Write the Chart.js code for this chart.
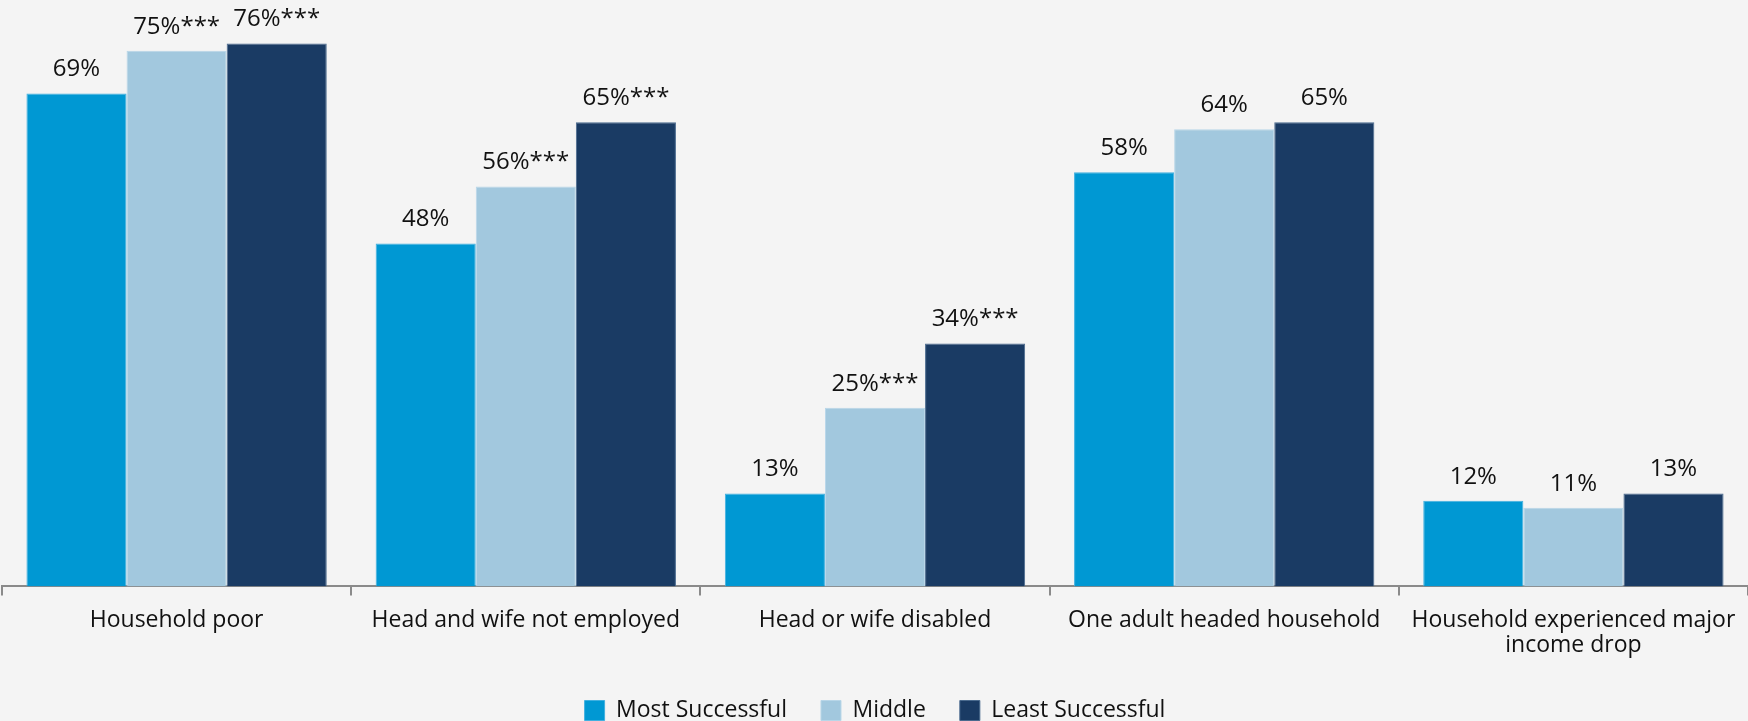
<!DOCTYPE html>
<html>
<head>
<meta charset="utf-8">
<script src="https://cdn.jsdelivr.net/npm/chart.js@4/dist/chart.umd.min.js"></script>
<style>
  html, body { margin: 0; padding: 0; background: #f4f4f4; }
  #wrap { width: 1748px; height: 721px; }
</style>
</head>
<body>
<div id="wrap"><canvas id="successChart"></canvas></div>
<script>
// Household circumstances by success group
const categories = [
    'Household poor',
    'Head and wife not employed',
    'Head or wife disabled',
    'One adult headed household',
    ['Household experienced major', 'income drop']
];
const mostSuccessful = [69, 48, 13, 58, 12];
const middle = [75, 56, 25, 64, 11];
const leastSuccessful = [76, 65, 34, 65, 13];
// significance stars appended to labels
const middleStars = ['***', '***', '***', '', ''];
const leastStars = ['***', '***', '***', '', ''];
const mostStars = ['', '', '', '', ''];

const labelFont = '"Open Sans", sans-serif';

// draws the value labels above each bar
const barLabels = {
    id: 'barLabels',
    afterDatasetsDraw(chart) {
        const c = chart.ctx;
        c.save();
        c.font = '24px ' + labelFont;
        c.fillStyle = '#111';
        c.textAlign = 'center';
        c.textBaseline = 'bottom';
        chart.data.datasets.forEach((ds, i) => {
            const meta = chart.getDatasetMeta(i);
            meta.data.forEach((bar, j) => {
                const txt = ds.data[j] + '%' + ds.stars[j];
                c.fillText(txt, bar.x, bar.y - 12);
            });
        });
        c.restore();
    }
};

const ctx = document.getElementById('successChart').getContext('2d');
new Chart(ctx, {
    type: 'bar',
    data: {
        labels: categories,
        datasets: [{
            label: 'Most Successful',
            data: mostSuccessful,
            stars: mostStars,
            backgroundColor: '#0098d3',
            borderColor: '#40b0e0',
            borderWidth: 1
        }, {
            label: 'Middle',
            data: middle,
            stars: middleStars,
            backgroundColor: '#a2c8de',
            borderColor: '#b8d6e8',
            borderWidth: 1
        }, {
            label: 'Least Successful',
            data: leastSuccessful,
            stars: leastStars,
            backgroundColor: '#1a3b64',
            borderColor: '#4a6a8e',
            borderWidth: 1
        }]
    },
    options: {
        responsive: true,
        maintainAspectRatio: false,
        animation: false,
        layout: { padding: { top: 15, left: 2, right: 0, bottom: -11 } },
        categoryPercentage: 0.86,
        barPercentage: 1.0,
        scales: {
            x: {
                grid: {
                    offset: true,
                    drawOnChartArea: false,
                    tickLength: 9,
                    color: '#8a8a8a',
                    lineWidth: 2
                },
                border: { color: '#8a8a8a', width: 2 },
                ticks: {
                    color: '#111',
                    font: { family: labelFont, size: 23, lineHeight: 1.1 },
                    padding: 12,
                    maxRotation: 0
                },
                afterFit(scale) { scale.height -= 5; }
            },
            y: {
                display: false,
                min: 0,
                max: 80
            }
        },
        plugins: {
            legend: {
                position: 'bottom',
                labels: {
                    color: '#111',
                    font: { family: labelFont, size: 23 },
                    boxWidth: 20,
                    boxHeight: 20,
                    padding: 34
                }
            },
            tooltip: { enabled: false }
        }
    },
    plugins: [barLabels]
});
</script>
</body>
</html>
